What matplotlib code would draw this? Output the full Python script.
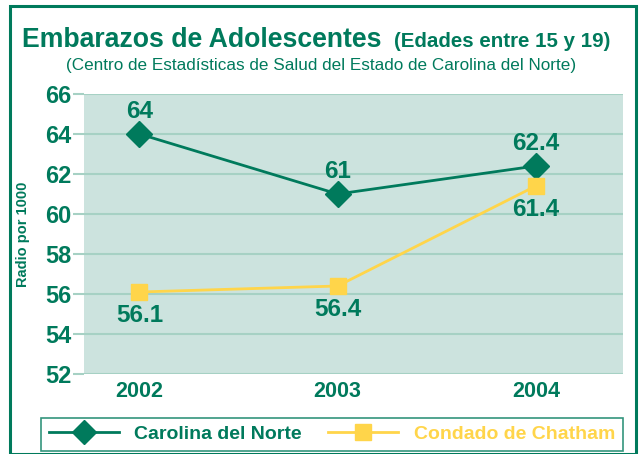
import matplotlib.pyplot as plt
from matplotlib.patches import Rectangle
from matplotlib.lines import Line2D

years = ["2002", "2003", "2004"]
carolina = [64, 61, 62.4]
chatham = [56.1, 56.4, 61.4]
y_ticks = [52, 54, 56, 58, 60, 62, 64, 66]

green = "#007A5C"
yellow = "#FFD54A"
bg = "#CCE3DE"
grid = "#A6D1C4"

plt.rcParams['font.family'] = ['Liberation Sans', 'DejaVu Sans']

fig = plt.figure(figsize=(6.4, 4.54), dpi=100)
fig.patches.append(Rectangle((10/640, 0), 626/640, 1 - 6/454, transform=fig.transFigure,
                             fill=False, edgecolor=green, linewidth=2.2))

ax = fig.add_axes([84/640, 1 - 374/454, 539/640, 280/454])
ax.set_facecolor(bg)
for s in ax.spines.values():
    s.set_visible(False)

x = range(len(years))
ax.plot(x, carolina, color=green, lw=2, marker="D", markersize=13, zorder=3)
ax.plot(x, chatham, color=yellow, lw=2, marker="s", markersize=12, zorder=3)

for i, v in enumerate(carolina):
    ax.text(i, v + 0.55, f"{v:g}", ha="center", va="bottom", color=green,
            fontsize=17.5, fontweight="bold")
for i, v in enumerate(chatham):
    ax.text(i, v - 0.6, f"{v:g}", ha="center", va="top", color=green,
            fontsize=17.5, fontweight="bold")

ax.set_ylim(52, 66)
ax.set_xlim(-0.28, 2.44)
ax.set_yticks(y_ticks)
ax.set_xticks(list(x))
ax.set_xticklabels(years)
ax.yaxis.grid(True, color=grid, lw=1.5)
ax.set_axisbelow(True)
ax.tick_params(axis="y", length=8, color=grid, width=1.5, labelsize=17, labelcolor=green, pad=1)
ax.tick_params(axis="x", length=0, labelsize=15.5, labelcolor=green, pad=5)
for lab in ax.get_yticklabels() + ax.get_xticklabels():
    lab.set_fontweight("bold")
ax.set_ylabel("Radio por 1000", color=green, fontsize=10.5, fontweight="bold")
ax.yaxis.set_label_coords(-54/539, 0.5)

fig.text(22/640, 1 - 47/454, "Embarazos de Adolescentes", color=green, fontsize=19.2,
         fontweight="bold", ha="left", va="baseline")
fig.text(394/640, 1 - 47/454, "(Edades entre 15 y 19)", color=green, fontsize=14.8,
         fontweight="bold", ha="left", va="baseline")
fig.text(321/640, 1 - 70/454, "(Centro de Estadísticas de Salud del Estado de Carolina del Norte)",
         color=green, fontsize=12.3, ha="center", va="baseline")

handles = [Line2D([], [], color=green, lw=2, marker="D", markersize=12),
           Line2D([], [], color=yellow, lw=2, marker="s", markersize=11)]
leg = fig.legend(handles, ["Carolina del Norte", "Condado de Chatham"],
                 loc="lower left", bbox_to_anchor=(41/640, 3/454, 582/640, 37/454),
                 mode="expand", ncol=2, frameon=True, fancybox=False,
                 handlelength=3.6, prop={"weight": "bold", "size": 14},
                 borderaxespad=0, columnspacing=1.5)
leg.get_frame().set_edgecolor(green)
leg.get_frame().set_linewidth(1.2)
for t, c in zip(leg.get_texts(), [green, yellow]):
    t.set_color(c)

fig.savefig("out.png", dpi=100)
